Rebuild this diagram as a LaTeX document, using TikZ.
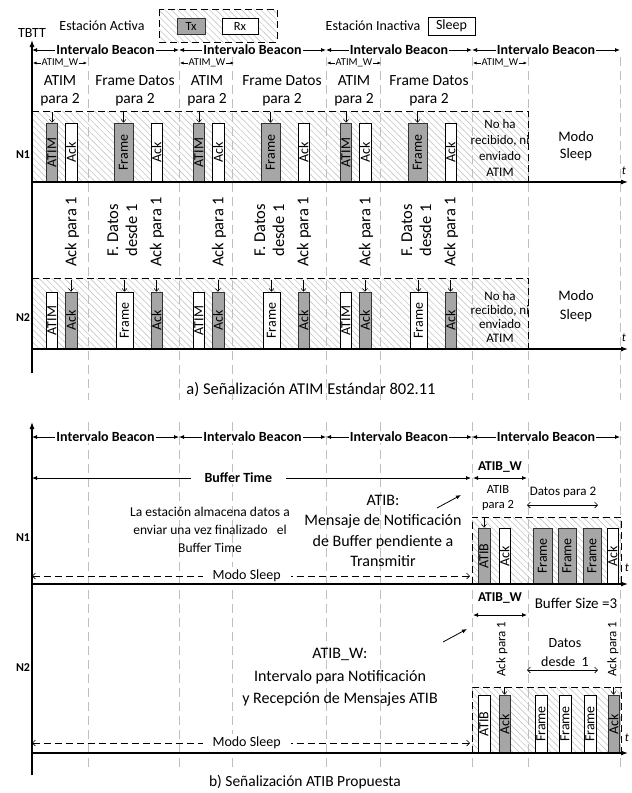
\documentclass[tikz,border=0pt]{standalone}
\usepackage{fontspec}
\setmainfont{Carlito}
\usetikzlibrary{arrows.meta,patterns.meta}
\newcommand{\fsz}[2]{\fontsize{#1}{#2}\selectfont}

\begin{document}
\begin{tikzpicture}[x=1pt, y=-1pt, line width=0.8pt,
    >={Latex[length=5pt,width=4pt]},
    guia/.style={black!25, dash pattern=on 9pt off 5pt, line width=0.7pt},
    rayado/.style={pattern={Lines[angle=-45,distance=4.5pt,line width=0.6pt]}, pattern color=black!22},
    caja/.style={dash pattern=on 7pt off 4pt, line width=0.8pt},
    tx/.style={draw=black!80, fill=black!35, line width=0.6pt},
    rx/.style={draw=black, fill=white, line width=0.6pt},
    pq/.style={rotate=90, inner sep=0pt, minimum width=59, font={\fsz{14}{16}}},
    pqb/.style={rotate=90, inner sep=0pt, minimum width=57, font={\fsz{14}{16}}},
    pqc/.style={rotate=90, inner sep=0pt, minimum width=56, font={\fsz{14}{16}}},
    pqd/.style={rotate=90, inner sep=0pt, minimum width=58, font={\fsz{14}{16}}},
    pfl/.style={-{Straight Barb[length=3pt,width=5pt]}, line width=0.5pt},
    barb/.style={{Straight Barb[length=3pt,width=6pt]}-{Straight Barb[length=3pt,width=6pt]}, line width=0.6pt},
    eje/.style={line width=1.1pt, -{Latex[length=7pt,width=5pt]}},
    vert/.style={rotate=90, anchor=west, inner sep=0pt},
    ib/.style={fill=white, inner sep=1pt, font={\bfseries\fsz{14}{16}}}]
  \useasboundingbox (0,0) rectangle (632,793);

  % fondos rayados
  \fill[rayado] (159,9) rectangle (277,42);
  \fill[rayado] (32,111) rectangle (528,182);
  \fill[rayado] (32,278) rectangle (528,349);
  \fill[rayado] (472,517) rectangle (621,584);
  \fill[rayado] (472,687) rectangle (621,753);

  % guias verticales
  \foreach \x in {88,179,232,326,380,472,528,620} {
    \draw[guia] (\x,57) -- (\x,400);
    \draw[guia] (\x,422) -- (\x,772);
  }

  % leyenda
  \draw[caja] (159,9) rectangle (277,42);
  \node[font={\fsz{14}{16}}] (lact) at (102,26) {Estación Activa};
  \node[tx, minimum width=28, minimum height=16, inner sep=0pt, font={\fsz{12.5}{14}}] (ltx) at (191,26) {Tx};
  \node[rx, minimum width=36, minimum height=16, inner sep=0pt, font={\fsz{12.5}{14}}] (lrx) at (240,26) {Rx};
  \node[font={\fsz{14}{16}}] (linact) at (373,26) {Estación Inactiva};
  \node[rx, minimum width=47, minimum height=18, inner sep=0pt, font={\fsz{14}{16}}] (lsleep) at (451.5,26) {Sleep};
  \node[font={\fsz{14}{16}}] (tbtt) at (32,33) {TBTT};

  % a) intervalos
  \foreach \a/\b [count=\i] in {32/179,179/326,326/472,472/620} {
    \draw[<->] (\a,50) -- node[ib] (iba\i) {Intervalo Beacon} (\b,50);
    \draw[<->] (\a,437) -- node[ib] (ibb\i) {Intervalo Beacon} (\b,437);
    \draw[{Latex[length=3.5pt,width=3pt]}-{Latex[length=3.5pt,width=3pt]}, line width=0.6pt]
      (\a+1,63) -- node[fill=white, inner sep=0.5pt, font={\fsz{10.5}{12}}] (aw\i) {ATIM\_W} (\a+55,63);
  }
  \foreach \a [count=\i] in {32,179,326} {
    \node[align=center, font={\fsz{15.5}{18}}] (at\i) at (\a+28,91) {ATIM\\para 2};
    \node[align=center, font={\fsz{15.5}{18}}] (fd\i) at (\a+103,91) {Frame Datos\\para 2};
  }

  % a) N1
  \draw[caja] (32,111) -| (528,182);
  \foreach \a [count=\i] in {32,179,326} {
    \node[pq, tx, minimum height=11] (atA\i) at (\a+20,152.5) {ATIM};
    \node[pq, rx, minimum height=12] (akA\i) at (\a+39,152.5) {Ack};
    \node[pq, tx, minimum height=19] (frA\i) at (\a+91.5,152.5) {Frame};
    \node[pq, rx, minimum height=11] (kkA\i) at (\a+124.5,152.5) {Ack};
    \draw[pfl] (atA\i.east) +(0,-11) -- (atA\i.east);
    \draw[pfl] (frA\i.east) +(0,-11) -- (frA\i.east);
  }
  \node[align=center, font={\fsz{13}{16}}] (nrA) at (500,147.5) {No ha\\recibido, ni\\enviado\\ATIM};
  \node[align=center, font={\fsz{14.5}{17.5}}] (msA) at (576,146) {Modo\\Sleep};
  \node[font={\bfseries\fsz{12}{14}}] (n1a) at (23,155) {N1};
  \draw[eje] (32,182) -- (628,182);
  \node[font={\itshape\fsz{12}{14}}] (ta1) at (624,171) {t};

  % a) textos intermedios
  \foreach \a [count=\i] in {32,179,326} {
    \node[vert, font={\fsz{16.5}{19}}] (ap\i) at (\a+40,267) {Ack para 1};
    \node[vert, align=left, font={\fsz{16.5}{19}}] (fdd\i) at (\a+90.5,257) {F. Datos\\desde 1};
    \node[vert, font={\fsz{16.5}{19}}] (aq\i) at (\a+125,267) {Ack para 1};
  }

  % a) N2
  \draw[caja] (32,278) -| (528,349);
  \foreach \a [count=\i] in {32,179,326} {
    \node[pqb, rx, minimum height=11] (atB\i) at (\a+20,320.5) {ATIM};
    \node[pqb, tx, minimum height=12] (akB\i) at (\a+39,320.5) {Ack};
    \node[pqb, rx, minimum height=17] (frB\i) at (\a+92.5,320.5) {Frame};
    \node[pqb, tx, minimum height=11] (kkB\i) at (\a+124.5,320.5) {Ack};
    \draw[pfl] (akB\i.east) +(0,-12) -- (akB\i.east);
    \draw[pfl] (frB\i.east) +(0,-12) -- (frB\i.east);
    \draw[pfl] (kkB\i.east) +(0,-12) -- (kkB\i.east);
  }
  \node[align=center, font={\fsz{13}{14}}] (nrB) at (500,317) {No ha\\recibido, ni\\enviado\\ATIM};
  \node[align=center, font={\fsz{14.5}{19}}] (msB) at (576,306.5) {Modo\\Sleep};
  \node[font={\bfseries\fsz{12}{14}}] (n2a) at (23,318) {N2};
  \draw[eje] (32,349) -- (628,349);
  \node[font={\itshape\fsz{12}{14}}] (ta2) at (624,338) {t};
  \draw[eje] (32,373) -- (32,40);
  \node[font={\fsz{16.5}{19}}] (capa) at (311,390) {a) Señalización ATIM Estándar 802.11};

  % b) N1
  \draw[<->] (32,478) -- node[pos=0.47, fill=white, inner xsep=14pt, inner ysep=1pt, font={\bfseries\fsz{14}{16}}] (bt) {Buffer Time} (471,478);
  \node[font={\bfseries\fsz{13.5}{16}}] (atw1) at (500,467) {ATIB\_W};
  \draw[<->] (473,478) -- (527,478);
  \node[align=center, font={\fsz{12.5}{15}}] (atp) at (498,497.5) {ATIB\\para 2};
  \node[font={\fsz{13}{15}}] (dp2) at (563,492) {Datos para 2};
  \draw[barb] (527,505) -- (598,505);
  \node[align=center, font={\fsz{13.5}{18}}] (alm) at (210,530) {La estación almacena datos a\\enviar una vez finalizado\ \ \ el\\Buffer Time};
  \node[align=center, font={\fsz{16}{20.5}}] (atib) at (383,531) {ATIB:\\Mensaje de Notificación\\de Buffer pendiente a\\Transmitir};
  \draw[->] (437,508) -- (461,495);
  \draw[caja] (472,584) |- (621,517) -- (621,584);
  \node[pqc, tx, minimum height=12] (atibC) at (484,556) {ATIB};
  \node[pqc, rx, minimum height=11] (akC) at (504.5,556) {Ack};
  \node[pqc, tx, minimum height=19] (frC1) at (542.5,556) {Frame};
  \node[pqc, tx, minimum height=18] (frC2) at (567,556) {Frame};
  \node[pqc, tx, minimum height=18] (frC3) at (592,556) {Frame};
  \node[pqc, rx, minimum height=11] (kkC) at (612.5,556) {Ack};
  \draw[pfl] (atibC.east) +(0,-10) -- (atibC.east);
  \draw[barb, dash pattern=on 7pt off 4pt] (32,576) -- node[pos=0.49, fill=white, inner xsep=10pt, font={\fsz{14}{16}}] (msC) {Modo Sleep} (470,576);
  \node[font={\bfseries\fsz{12}{14}}] (n1b) at (23,538) {N1};
  \draw[eje] (32,584) -- (628,584);
  \node[font={\itshape\fsz{12}{14}}] (tb1) at (627,568) {t};

  % b) N2
  \node[font={\bfseries\fsz{13.5}{16}}] (atw2) at (500,598) {ATIB\_W};
  \draw[<->] (473,615) -- (527,615);
  \node[font={\fsz{15}{17}}] (bs) at (576,603) {Buffer Size =3};
  \node[vert, font={\fsz{13}{15}}] (apD1) at (502,677) {Ack para 1};
  \node[vert, font={\fsz{13}{15}}] (apD2) at (613,677) {Ack para 1};
  \node[align=center, font={\fsz{14}{19}}] (dd) at (565,652.5) {Datos\\desde\ \ 1};
  \draw[barb] (527,670) -- (598,670);
  \draw[->] (443,642) -- (467,629);
  \node[align=center, font={\fsz{16}{22.5}}] (atw3) at (340,677.5) {ATIB\_W:\\Intervalo para Notificación\\y Recepción de Mensajes ATIB};
  \draw[caja] (472,753) |- (621,687) -- (621,753);
  \node[pqd, rx, minimum height=12] (atibD) at (484,724) {ATIB};
  \node[pqd, tx, minimum height=11] (akD) at (504.5,724) {Ack};
  \node[pqd, rx, minimum height=12] (frD1) at (541,724) {Frame};
  \node[pqd, rx, minimum height=12] (frD2) at (565,724) {Frame};
  \node[pqd, rx, minimum height=12] (frD3) at (590,724) {Frame};
  \node[pqd, tx, minimum height=11] (kkD) at (613.5,724) {Ack};
  \draw[pfl] (akD.east) +(0,-8) -- (akD.east);
  \draw[pfl] (kkD.east) +(0,-8) -- (kkD.east);
  \draw[barb, dash pattern=on 7pt off 4pt] (32,743) -- node[pos=0.49, fill=white, inner xsep=10pt, font={\fsz{14}{16}}] (msD) {Modo Sleep} (470,743);
  \node[font={\bfseries\fsz{12}{14}}] (n2b) at (23,668) {N2};
  \draw[eje] (32,753) -- (628,753);
  \node[font={\itshape\fsz{12}{14}}] (tb2) at (627,738) {t};
  \draw[eje] (32,775) -- (32,422);
  \node[font={\fsz{15.5}{18}}] (capb) at (305,782) {b) Señalización ATIB Propuesta};
\end{tikzpicture}
\end{document}
